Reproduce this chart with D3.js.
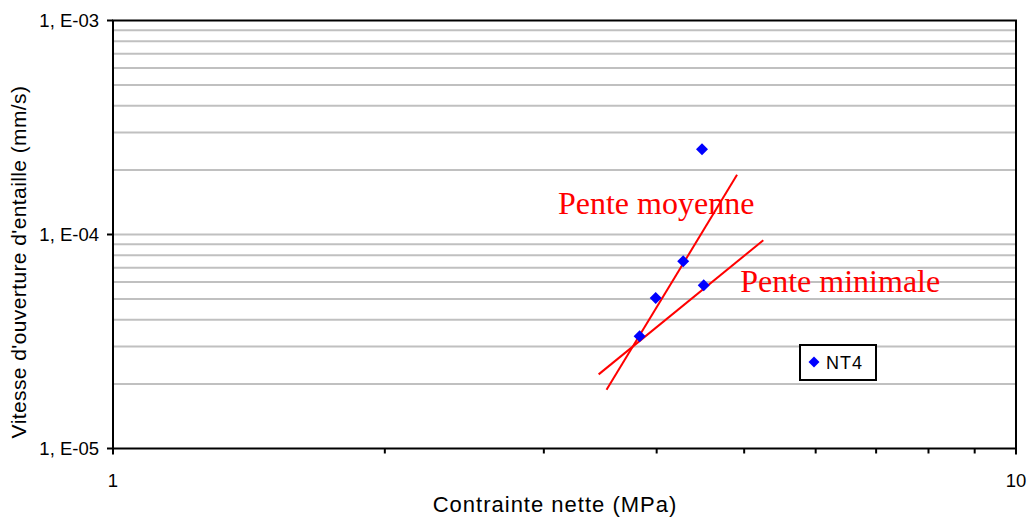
<!DOCTYPE html>
<html><head><meta charset="utf-8">
<script src="https://cdn.jsdelivr.net/npm/d3@7"></script>
<style>body{margin:0;background:#fff}svg{display:block}</style>
</head><body>
<svg id="c" width="1031" height="517"></svg>
<script>
const seriesName = "NT4";
const stress = [3.83, 3.99, 4.28, 4.49, 4.51];
const rate = [3.35e-5, 5.05e-5, 7.5e-5, 2.5e-4, 5.8e-5];
const lineNames = ["Pente moyenne", "Pente minimale"];
const lineX = [[3.52, 4.91], [3.45, 5.25]];
const lineY = [[1.88e-5, 1.90e-4], [2.22e-5, 9.4e-5]];
const labelPos = [[3.11, 1.25e-4], [4.95, 5.38e-5]];
const yTicks = [1e-5, 1e-4, 1e-3];
const yTickLabels = ["1, E-05", "1, E-04", "1, E-03"];
const xTicks = [1, 10];
const xTickLabels = ["1", "10"];

const svg = d3.select("#c");
const L = 113, R = 1016, T = 20.5, B = 448.5;
const x = d3.scaleLog().domain([1, 10]).range([L, R]);
const y = d3.scaleLog().domain([1e-5, 1e-3]).range([B, T]);
const sans = "Liberation Sans, Arial, sans-serif";

// gridlines at every 1..9 x 10^k
const grid = [];
for (let e = -5; e < -3; e++) for (let m = 1; m <= 9; m++) { const v = m * Math.pow(10, e); if (v > 1e-5) grid.push(v); }
svg.append("g").selectAll("line").data(grid).join("line")
  .attr("x1", L).attr("x2", R).attr("y1", d => y(d)).attr("y2", d => y(d))
  .attr("stroke", "#c0c0c0").attr("stroke-width", 2);

// x minor ticks
const xMinor = [2,3,4,5,6,7,8,9];
svg.append("g").selectAll("line").data(xMinor).join("line")
  .attr("x1", d => x(d)).attr("x2", d => x(d)).attr("y1", B).attr("y2", B + 5)
  .attr("stroke", "#000").attr("stroke-width", 2);
svg.append("g").selectAll("line").data(xTicks).join("line")
  .attr("x1", d => x(d)).attr("x2", d => x(d)).attr("y1", B).attr("y2", B + 6)
  .attr("stroke", "#000").attr("stroke-width", 2);
// y major ticks
svg.append("g").selectAll("line").data(yTicks).join("line")
  .attr("x1", L - 6).attr("x2", L).attr("y1", d => y(d)).attr("y2", d => y(d))
  .attr("stroke", "#000").attr("stroke-width", 2);

// frame
svg.append("rect").attr("x", L).attr("y", T).attr("width", R - L).attr("height", B - T)
  .attr("fill", "none").attr("stroke", "#000").attr("stroke-width", 2);

// tick labels
svg.append("g").selectAll("text").data(yTicks).join("text")
  .attr("x", 99).attr("y", d => y(d) + 6.5).attr("text-anchor", "end")
  .attr("font-family", sans).attr("font-size", 18.5)
  .text((d, i) => yTickLabels[i]);
svg.append("g").selectAll("text").data(xTicks).join("text")
  .attr("x", d => x(d)).attr("y", 487).attr("text-anchor", "middle")
  .attr("font-family", sans).attr("font-size", 18.5)
  .text((d, i) => xTickLabels[i]);

// axis titles
svg.append("text").attr("x", 555).attr("y", 512).attr("text-anchor", "middle")
  .attr("font-family", sans).attr("font-size", 22).attr("letter-spacing", 1)
  .text("Contrainte nette (MPa)");
svg.append("text").attr("transform", "translate(26,262) rotate(-90)")
  .attr("text-anchor", "middle")
  .attr("font-family", sans).attr("font-size", 21).attr("letter-spacing", 0.4)
  .text("Vitesse d'ouverture d'entaille (mm/s)");

// slope lines
svg.append("g").selectAll("line").data(lineX).join("line")
  .attr("x1", d => x(d[0])).attr("x2", d => x(d[1]))
  .attr("y1", (d, i) => y(lineY[i][0])).attr("y2", (d, i) => y(lineY[i][1]))
  .attr("stroke", "#ff0000").attr("stroke-width", 2);

// points
svg.append("g").selectAll("path").data(stress).join("path")
  .attr("d", d3.symbol().type(d3.symbolSquare).size(72)())
  .attr("fill", "#0000ff")
  .attr("transform", (d, i) => `translate(${x(d)},${y(rate[i])}) rotate(45)`);

// labels
svg.append("g").selectAll("text").data(lineNames).join("text")
  .attr("x", (d, i) => x(labelPos[i][0])).attr("y", (d, i) => y(labelPos[i][1]))
  .attr("font-family", "Liberation Serif, Times New Roman, serif").attr("font-size", 32)
  .attr("fill", "#ff0000").text(d => d);

// legend
const lg = svg.append("g");
lg.append("rect").attr("x", 800).attr("y", 345).attr("width", 76).attr("height", 35)
  .attr("fill", "#fff").attr("stroke", "#000").attr("stroke-width", 2);
lg.append("path").attr("d", d3.symbol().type(d3.symbolSquare).size(60)())
  .attr("transform", "translate(814,362) rotate(45)").attr("fill", "#0000ff");
lg.append("text").attr("x", 826).attr("y", 368.5).attr("font-family", sans)
  .attr("font-size", 18).attr("letter-spacing", 1).text(seriesName);
</script>
</body></html>
